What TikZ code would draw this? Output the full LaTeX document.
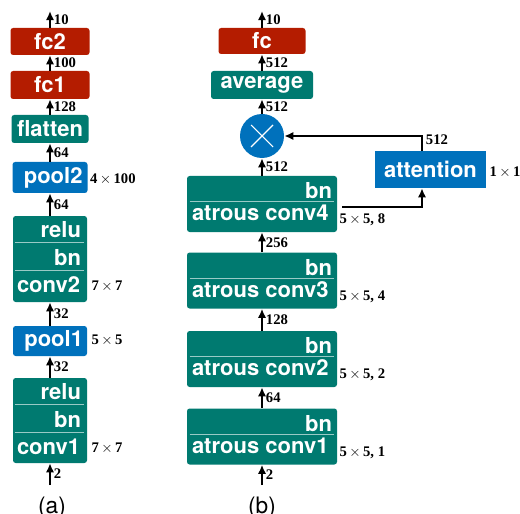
\documentclass[tikz,border=0pt]{standalone}
\usepackage{fontspec}
\setmainfont{Liberation Serif}
\setsansfont{TeX Gyre Heros}
\usetikzlibrary{arrows.meta,calc}
\definecolor{fcred}{RGB}{180,28,0}
\definecolor{layteal}{RGB}{0,122,112}
\definecolor{poolblue}{RGB}{0,113,188}
\begin{document}
\begin{tikzpicture}[x=0.75pt,y=-0.75pt,
 sz/.style 2 args={minimum width=#1*0.75pt,minimum height=#2*0.75pt},
 blk/.style={rounded corners=2pt,inner sep=0pt,text=white,
  font=\sffamily\bfseries\fontsize{16.5}{18}\selectfont},
 fcbox/.style={blk,fill=fcred},
 laybox/.style={blk,fill=layteal},
 poolbox/.style={blk,fill=poolblue},
 rowtxt/.style={inner sep=0pt,text=white,font=\sffamily\bfseries\fontsize{16.5}{18}\selectfont},
 divline/.style={white!60!layteal,line width=0.8pt},
 arr/.style={-{Latex[length=6.8pt,width=6.2pt]},line width=1.5pt},
 lab/.style={right,inner sep=2.2pt,font=\bfseries\fontsize{11}{12}\selectfont},
 ksz/.style={anchor=base west,inner sep=0pt,font=\bfseries\fontsize{11}{12}\selectfont},
 capt/.style={font=\sffamily\fontsize{17}{20}\selectfont}]
\useasboundingbox (0,0) rectangle (520,513);

% (a) plain network
\node[fcbox,sz={79}{27}] (fc2) at (50,41.5) {fc2};
\node[fcbox,sz={79}{28}] (fc1) at (50,85) {fc1};
\node[laybox,sz={77}{28}] (flat) at (50,129) {flatten};
\node[poolbox,sz={75}{31},text width=65*0.75pt,align=right] (pool2) at (50,177.5) {pool2};
\node[laybox,sz={74}{86}] (conv2) at (50,259) {};
\node[poolbox,sz={74}{30},text width=66*0.75pt,align=right] (pool1) at (50,341) {pool1};
\node[laybox,sz={74}{85}] (conv1) at (50,420.5) {};

\foreach \b/\t in {conv2/conv2,conv1/conv1}{
 \node[rowtxt,anchor=base east] at ($(\b.north east)+(-6,22)$) {relu};
 \draw[divline] ($(\b.north west)+(2,27)$) -- ($(\b.north east)+(-3,27)$);
 \node[rowtxt,anchor=base east] at ($(\b.north east)+(-6,50)$) {bn};
 \draw[divline] ($(\b.north west)+(2,55)$) -- ($(\b.north east)+(-3,55)$);
 \node[rowtxt,anchor=base west] at ($(\b.north west)+(4,77)$) {\t};
 \node[ksz] at ($(\b.north east)+(4,75)$) {7\,$\times$\,7};
}
\node[ksz] at ($(pool2.east)+(2,6.5)$) {4\,$\times$\,100};
\node[ksz] at ($(pool1.east)+(4,3)$) {5\,$\times$\,5};

\coordinate (ina) at (50,485);
\coordinate (outa) at (50,11);
\draw[arr] (ina) -- node[lab] {2} (conv1);
\draw[arr] (conv1) -- node[lab] {32} (pool1);
\draw[arr] (pool1) -- node[lab] {32} (conv2);
\draw[arr] (conv2) -- node[lab] {64} (pool2);
\draw[arr] (pool2) -- node[lab] {64} (flat);
\draw[arr] (flat) -- node[lab] {128} (fc1);
\draw[arr] (fc1) -- node[lab] {100} (fc2);
\draw[arr] (fc2) -- node[lab] {10} (outa);
\node[capt] (capa) at (52,508) {(a)};

% (b) atrous network with attention
\node[fcbox,sz={87}{26}] (fc) at (262,41) {fc};
\node[laybox,sz={102}{28}] (avg) at (262,85) {average};
\node[circle,fill=poolblue,inner sep=0pt,minimum size=44*0.75pt] (mul) at (262,136) {};
\draw[white,line width=0.8pt] ($(mul.center)+(-11,-11)$) -- ($(mul.center)+(11,11)$);
\draw[white,line width=0.8pt] ($(mul.center)+(-11,11)$) -- ($(mul.center)+(11,-11)$);
\node[poolbox,rounded corners=0pt,sz={111}{37}] (att) at (430.5,169.5) {attention};
\node[ksz] at ($(att.east)+(3,6.5)$) {1\,$\times$\,1};

\foreach \b/\y/\d in {ac4/204/8,ac3/280.5/4,ac2/359/2,ac1/436.5/1}{
 \node[laybox,sz={150}{56}] (\b) at (262,\y) {};
 \node[rowtxt,anchor=base east] at ($(\b.north east)+(-5,23)$) {bn};
 \draw[divline] ($(\b.north west)+(3,26)$) -- ($(\b.north east)+(-3,26)$);
 \node[ksz] at ($(\b.north east)+(2,48)$) {5\,$\times$\,5, \d};
}
\node[rowtxt,anchor=base west] at ($(ac4.north west)+(5,45)$) {atrous conv4};
\node[rowtxt,anchor=base west] at ($(ac3.north west)+(5,45)$) {atrous conv3};
\node[rowtxt,anchor=base west] at ($(ac2.north west)+(5,45)$) {atrous conv2};
\node[rowtxt,anchor=base west] at ($(ac1.north west)+(5,45)$) {atrous conv1};

\coordinate (inb) at (262,485);
\coordinate (outb) at (262,11);
\coordinate (attx) at (422,0);
\coordinate (atin) at ($(ac4.east)+(5,3)$);
\draw[arr] (inb) -- node[lab] {2} (ac1);
\draw[arr] (ac1) -- node[lab] {64} (ac2);
\draw[arr] (ac2) -- node[lab] {128} (ac3);
\draw[arr] (ac3) -- node[lab] {256} (ac4);
\draw[arr] (ac4) -- node[lab] {512} (mul);
\draw[arr] (mul) -- node[lab] {512} (avg);
\draw[arr] (avg) -- node[lab] {512} (fc);
\draw[arr] (fc) -- node[lab] {10} (outb);
\draw[arr] (atin) -| (attx |- att.south);
\draw[arr] (attx |- att.north) |- node[pos=0.5,anchor=west,yshift=-2.6pt,inner sep=2.2pt,
 font=\bfseries\fontsize{11}{12}\selectfont] {512} (mul.east);
\node[capt] (capb) at (262,508) {(b)};
\end{tikzpicture}
\end{document}
